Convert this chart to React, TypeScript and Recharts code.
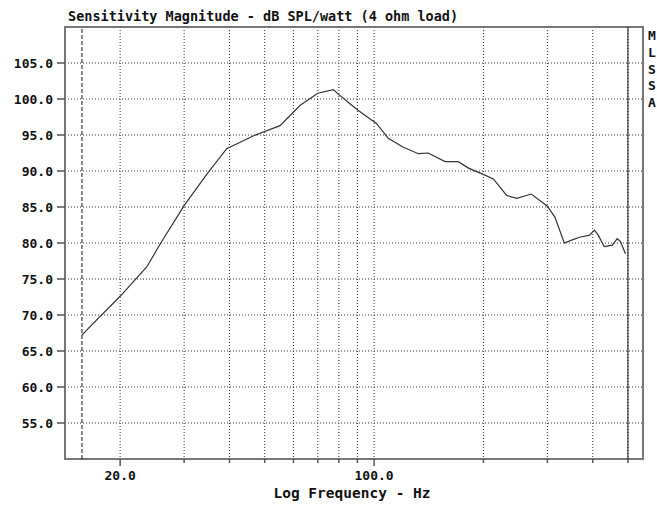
import React from "react";
import {
  LineChart,
  Line,
  XAxis,
  YAxis,
  CartesianGrid,
  ReferenceLine,
  ReferenceArea,
} from "recharts";

// frequency (Hz) and sensitivity (dB SPL/watt)
const freqHz = [
  15.7, 16.4, 20.0, 23.7, 25.8, 30.0, 34.7, 39.3, 46.6, 55.1, 62.5, 70.0,
  77.2, 80.5, 86.0, 90.5, 101.5, 109.6, 120.4, 132.5, 141.0, 156.8, 170.6,
  181.9, 198.4, 213.0, 231.8, 247.0, 271.0, 300.0, 314.6, 334.0, 350.0,
  368.0, 392.0, 404.0, 413.0, 430.0, 453.0, 467.0, 477.0, 492.0,
];
const splDb = [
  67.2, 68.2, 72.6, 76.7, 79.9, 85.2, 89.6, 93.1, 94.9, 96.3, 99.1, 100.8,
  101.3, 100.5, 99.3, 98.4, 96.6, 94.5, 93.3, 92.4, 92.5, 91.3, 91.3, 90.4,
  89.6, 88.9, 86.6, 86.2, 86.8, 85.1, 83.6, 80.0, 80.4, 80.8, 81.1, 81.8,
  81.2, 79.5, 79.7, 80.6, 80.2, 78.5,
];

const xTicks = [20, 30, 40, 50, 60, 70, 80, 90, 100, 200, 300, 400, 500];
const xTickLabels: { [key: number]: string } = { 20: "20.0", 100: "100.0" };
const yTicks = [55, 60, 65, 70, 75, 80, 85, 90, 95, 100, 105];
const xDomain = [14.1, 550];
const yDomain = [50, 110];
const markerLeftHz = 15.7;
const markerRightHz = 500;

const title = "Sensitivity Magnitude - dB SPL/watt (4 ohm load)";
const xTitle = "Log Frequency - Hz";
const sideLetters = ["M", "L", "S", "S", "A"];

const FONT = '"DejaVu Sans Mono", "Liberation Mono", monospace';

const XTick = (props: any) => {
  const { x, y, payload } = props;
  const label = xTickLabels[payload.value];
  return (
    <g>
      <line
        x1={x}
        x2={x}
        y1={y}
        y2={y + (label ? 7 : 4)}
        stroke="#555"
        strokeWidth={1.5}
      />
      {label && (
        <text
          x={x}
          y={y + 21}
          textAnchor="middle"
          fontFamily={FONT}
          fontWeight="bold"
          fontSize={13}
          fill="#111"
        >
          {label}
        </text>
      )}
    </g>
  );
};

const App = () => {
  const data = freqHz.map((f, i) => ({ f, db: splDb[i] }));

  return (
    <div
      style={{
        position: "absolute",
        left: 0,
        top: 0,
        width: 657,
        height: 509,
        background: "#fff",
      }}
    >
      <div
        style={{
          position: "absolute",
          left: 68,
          top: 8,
          fontFamily: FONT,
          fontWeight: "bold",
          fontSize: 13.5,
          lineHeight: "16px",
          color: "#111",
          whiteSpace: "pre",
        }}
      >
        {title}
      </div>
      <div
        style={{
          position: "absolute",
          left: 648,
          top: 28,
          fontFamily: FONT,
          fontWeight: "bold",
          fontSize: 13,
          lineHeight: "16.8px",
          color: "#111",
        }}
      >
        {sideLetters.map((c, i) => (
          <div key={i}>{c}</div>
        ))}
      </div>
      <div
        style={{
          position: "absolute",
          left: 352,
          top: 484,
          transform: "translateX(-50%)",
          fontFamily: FONT,
          fontWeight: "bold",
          fontSize: 14.5,
          lineHeight: "18px",
          color: "#111",
          whiteSpace: "pre",
        }}
      >
        {xTitle}
      </div>
      <LineChart
        width={657}
        height={509}
        data={data}
        margin={{ top: 27, right: 14, bottom: 0, left: 0 }}
      >
        <CartesianGrid stroke="#333" strokeDasharray="1 2" />
        <XAxis
          dataKey="f"
          type="number"
          scale="log"
          domain={xDomain}
          ticks={xTicks}
          interval={0}
          allowDataOverflow
          height={50}
          tickSize={0}
          tickMargin={0}
          tickLine={false}
          axisLine={false}
          tick={<XTick />}
        />
        <YAxis
          type="number"
          domain={yDomain}
          ticks={yTicks}
          interval={0}
          width={65}
          tickSize={8}
          tickMargin={4}
          tickLine={{ stroke: "#555", strokeWidth: 1.5 }}
          axisLine={false}
          tickFormatter={(v: number) => v.toFixed(1)}
          tick={{
            fontFamily: FONT,
            fontWeight: "bold",
            fontSize: 13,
            fill: "#111",
          }}
        />
        <ReferenceLine
          x={markerLeftHz}
          stroke="#111"
          strokeDasharray="4 2"
        />
        <ReferenceLine x={markerRightHz} stroke="#111" />
        <Line
          type="linear"
          dataKey="db"
          stroke="#333"
          strokeWidth={1.2}
          dot={false}
          isAnimationActive={false}
        />
        <ReferenceArea
          x1={xDomain[0]}
          x2={xDomain[1]}
          y1={yDomain[0]}
          y2={yDomain[1]}
          fill="none"
          stroke="#777"
          strokeWidth={2}
          ifOverflow="visible"
        />
      </LineChart>
    </div>
  );
};

export default App;
